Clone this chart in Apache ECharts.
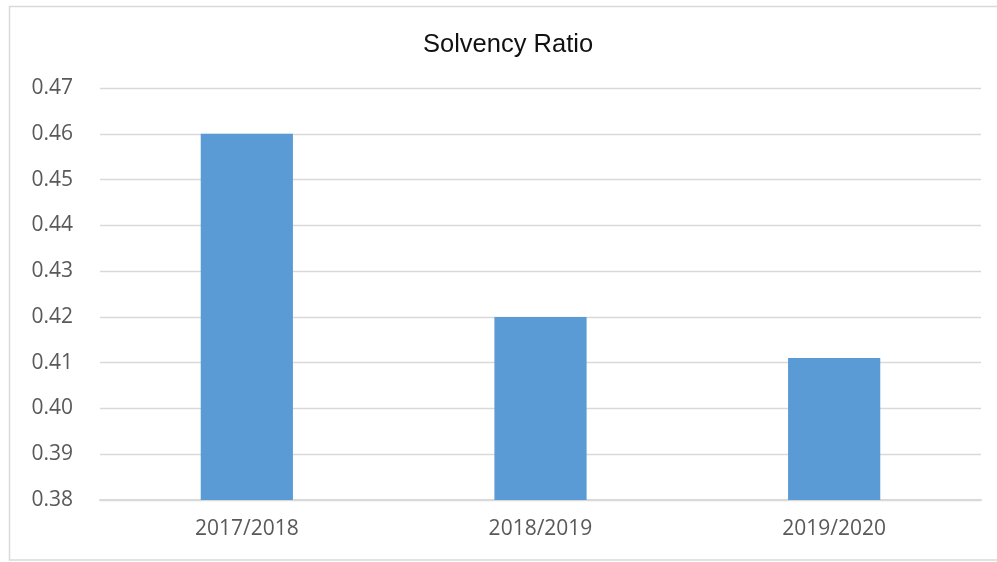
<!DOCTYPE html>
<html>
<head>
<meta charset="utf-8">
<script src="https://cdn.jsdelivr.net/npm/echarts@6/dist/echarts.min.js"></script>
<style>
  html, body { margin: 0; padding: 0; background: #ffffff; }
  #chart { width: 997px; height: 562px; }
</style>
</head>
<body>
<div id="chart"></div>
<script>
// Solvency ratio by financial year
const categories = ['2017/2018', '2018/2019', '2019/2020'];
const solvencyRatio = [0.46, 0.42, 0.411];
const yTicks = { min: 0.38, max: 0.47, interval: 0.01 };

const chart = echarts.init(document.getElementById('chart'), null, { renderer: 'canvas' });

chart.setOption({
  animation: false,
  backgroundColor: '#ffffff',
  title: {
    text: 'Solvency Ratio',
    left: 423,
    top: 32,
    padding: 0,
    textStyle: {
      fontFamily: 'Liberation Sans, Arial, sans-serif',
      fontSize: 25.5,
      fontWeight: 'normal',
      color: '#111111'
    }
  },
  graphic: [{
    type: 'rect',
    shape: { x: 9.5, y: 6.5, width: 1000, height: 553.5 },
    style: { fill: 'none', stroke: '#d9d9d9', lineWidth: 1.5 },
    silent: true
  }],
  grid: { left: 100, right: 16, top: 88, bottom: 62 },
  xAxis: {
    type: 'category',
    data: categories,
    axisLine: { show: true, lineStyle: { color: '#d9d9d9', width: 2 } },
    axisTick: { show: false },
    axisLabel: {
      margin: 19,
      color: '#595959',
      fontFamily: 'Open Sans, sans-serif',
      fontSize: 21
    }
  },
  yAxis: {
    type: 'value',
    min: yTicks.min,
    max: yTicks.max,
    interval: yTicks.interval,
    axisLine: { show: false },
    axisTick: { show: false },
    splitLine: { lineStyle: { color: '#d9d9d9', width: 1.3 } },
    axisLabel: {
      margin: 27,
      color: '#595959',
      fontFamily: 'Open Sans, sans-serif',
      fontSize: 21,
      formatter: v => v.toFixed(2)
    }
  },
  series: [{
    type: 'bar',
    data: solvencyRatio,
    barWidth: '31.4%',
    itemStyle: { color: '#5b9bd5' }
  }]
});
</script>
</body>
</html>
